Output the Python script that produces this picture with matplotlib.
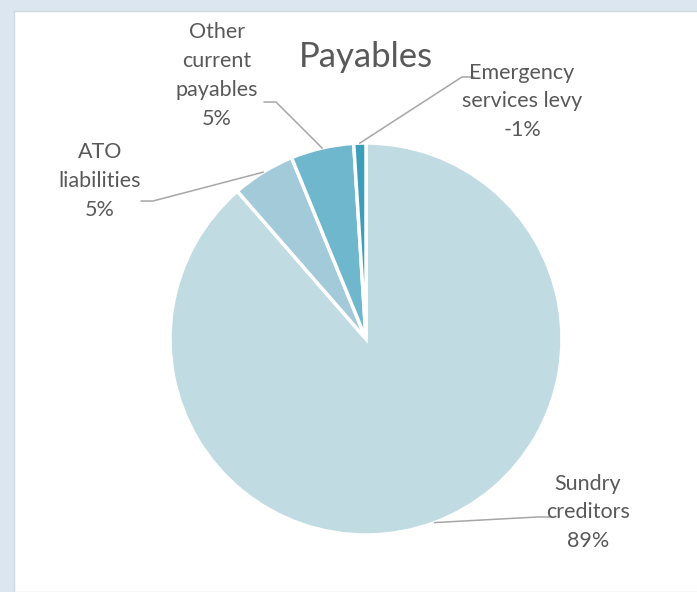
import numpy as np
import matplotlib.pyplot as plt
from matplotlib.patches import Rectangle

# Payables breakdown (share of total, %)
categories = ['Sundry\ncreditors', 'ATO\nliabilities', 'Other\ncurrent\npayables', 'Emergency\nservices levy']
values = [88.6, 5.2, 5.2, -1.0]
colors = ['#c1dbe3', '#a3cad9', '#6fb7cd', '#3d9ebc']

# where each label sits (text centre) and where its leader line bends, in pie-radius units
label_pos = [(1.133, -0.885), (-1.357, 0.806), (-0.760, 1.345), (0.796, 1.212)]
elbow_pos = [(0.878, -0.908), (-1.087, 0.704), (-0.459, 1.209), (0.490, 1.337)]

plt.rcParams['font.family'] = ['Lato', 'DejaVu Sans']

W, H = 697, 592
cx, cy, r = 366, 339, 196

fig = plt.figure(figsize=(W / 100, H / 100), dpi=100)
fig.patch.set_facecolor('#dce6f0')
fig.patches.append(Rectangle((14 / W, 0), 1, 1 - 11 / H, transform=fig.transFigure,
                             facecolor='white', edgecolor='#d0d8e0', lw=1, zorder=0))

ax = fig.add_axes([0, 0, 1, 1])
ax.set_zorder(1)

sizes = np.abs(values)
wedges, _ = ax.pie(sizes, colors=colors, startangle=90, counterclock=False, radius=1,
                   wedgeprops=dict(edgecolor='white', linewidth=2.5))

ax.set_aspect('auto')
ax.set_xlim(-cx / r, (W - cx) / r)
ax.set_ylim(-(H - cy) / r, cy / r)
ax.axis('off')

total = sizes.sum()
for w, name, v, (tx, ty), (ex, ey) in zip(wedges, categories, values, label_pos, elbow_pos):
    mid = np.deg2rad((w.theta1 + w.theta2) / 2)
    ax0, ay0 = np.cos(mid), np.sin(mid)
    side = 1 if tx > ex else -1
    ax.plot([ax0, ex, ex + side * 0.06], [ay0, ey, ey], color='#a6a6a6', lw=1.1, zorder=3)
    ax.text(tx, ty, f'{name}\n{v / total * 100:.0f}%', ha='center', va='center',
            fontsize=15.5, color='#595959', linespacing=1.55)

ax.text(0, (cy - 57) / r, 'Payables', ha='center', va='center', fontsize=25, color='#595959')

fig.savefig('out.png', dpi=100, facecolor=fig.get_facecolor())
